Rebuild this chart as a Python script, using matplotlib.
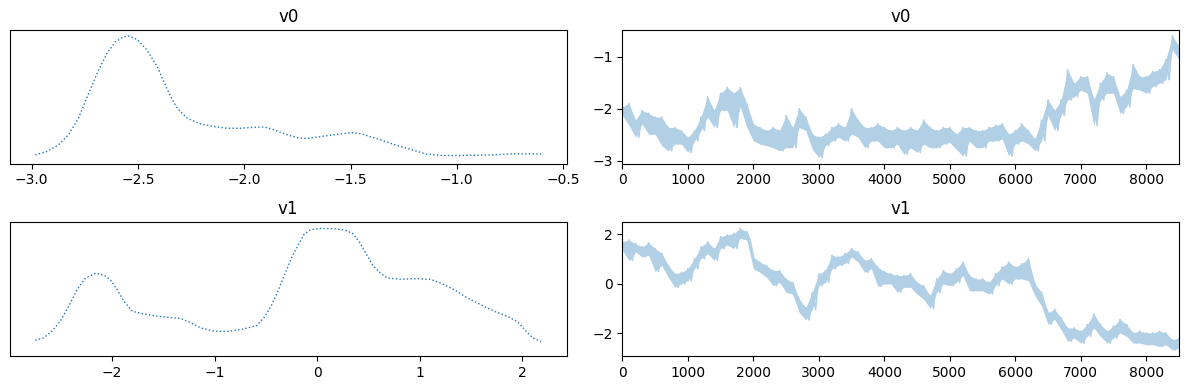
import numpy as np
import matplotlib
matplotlib.use("Agg")
import matplotlib.pyplot as plt
from matplotlib.colors import to_rgb

# KDE curves
v0_grid = [-2.983, -2.929, -2.874, -2.827, -2.78, -2.732, -2.685, -2.646, -2.606, -2.567,
           -2.543, -2.504, -2.457, -2.409, -2.378, -2.346, -2.315, -2.268, -2.205, -2.142,
           -2.079, -2.016, -1.953, -1.906, -1.858, -1.795, -1.74, -1.699, -1.62, -1.557,
           -1.494, -1.447, -1.367, -1.289, -1.21, -1.147, -1.068, -0.989, -0.91, -0.831,
           -0.752, -0.674, -0.603]
v0_dens = [0.033, 0.074, 0.156, 0.279, 0.485, 0.793, 1.081, 1.286, 1.430, 1.492,
           1.500, 1.459, 1.327, 1.122, 0.937, 0.752, 0.608, 0.485, 0.415, 0.382,
           0.362, 0.362, 0.374, 0.378, 0.341, 0.279, 0.238, 0.238, 0.267, 0.288,
           0.308, 0.292, 0.226, 0.156, 0.095, 0.045, 0.025, 0.025, 0.029, 0.033,
           0.045, 0.045, 0.045]

v1_grid = [-2.751, -2.672, -2.590, -2.508, -2.426, -2.344, -2.262, -2.164, -2.082, -2.016,
           -1.951, -1.885, -1.803, -1.689, -1.557, -1.426, -1.328, -1.230, -1.131, -1.0,
           -0.869, -0.738, -0.590, -0.508, -0.443, -0.377, -0.311, -0.246, -0.164, -0.127,
           -0.062, 0.036, 0.166, 0.264, 0.346, 0.411, 0.476, 0.541, 0.606, 0.688,
           0.818, 0.981, 1.112, 1.21, 1.34, 1.47, 1.601, 1.731, 1.862, 1.96,
           2.041, 2.106, 2.188]
v1_dens = [0.036, 0.044, 0.069, 0.106, 0.161, 0.223, 0.266, 0.284, 0.278, 0.259,
           0.223, 0.180, 0.143, 0.133, 0.125, 0.120, 0.116, 0.100, 0.081, 0.069,
           0.069, 0.076, 0.090, 0.124, 0.167, 0.223, 0.284, 0.345, 0.403, 0.428,
           0.446, 0.450, 0.449, 0.445, 0.432, 0.401, 0.358, 0.315, 0.288, 0.266,
           0.262, 0.264, 0.261, 0.247, 0.223, 0.192, 0.167, 0.143, 0.124, 0.103,
           0.069, 0.044, 0.032]

# Trace envelopes (upper / lower value) every 100 draws, 0..8500
draws = np.arange(0, 8600, 100)
v0_hi = [-1.96, -1.90, -2.22, -2.03, -2.09, -2.16, -2.16, -2.36, -2.36, -2.42,
         -2.55, -2.42, -2.16, -1.77, -2.03, -1.70, -1.59, -1.70, -1.59, -1.90,
         -2.29, -2.36, -2.42, -2.36, -2.42, -2.13, -2.36, -2.00, -2.16, -2.49,
         -2.55, -2.49, -2.36, -2.29, -2.36, -2.00, -2.22, -2.36, -2.36, -2.29,
         -2.36, -2.42, -2.36, -2.42, -2.36, -2.42, -2.22, -2.36, -2.42, -2.36,
         -2.36, -2.49, -2.36, -2.36, -2.42, -2.42, -2.36, -2.32, -2.29, -2.49,
         -2.42, -2.29, -2.42, -2.58, -2.22, -1.83, -2.03, -1.83, -1.25, -1.51,
         -1.38, -1.38, -1.83, -1.51, -1.31, -1.38, -1.77, -1.64, -1.15, -1.38,
         -1.38, -1.28, -1.25, -1.05, -0.60, -0.79]
v0_lo = [-2.13, -2.32, -2.55, -2.29, -2.49, -2.49, -2.71, -2.81, -2.68, -2.68,
         -2.84, -2.62, -2.42, -2.16, -2.36, -2.03, -2.03, -2.36, -1.96, -2.36,
         -2.62, -2.68, -2.71, -2.75, -2.81, -2.75, -2.75, -2.36, -2.42, -2.78,
         -2.94, -2.71, -2.62, -2.55, -2.62, -2.49, -2.55, -2.75, -2.62, -2.62,
         -2.75, -2.75, -2.68, -2.88, -2.75, -2.84, -2.68, -2.75, -2.75, -2.68,
         -2.65, -2.78, -2.91, -2.62, -2.75, -2.75, -2.62, -2.62, -2.58, -2.91,
         -2.68, -2.62, -2.68, -2.81, -2.62, -2.13, -2.42, -2.13, -1.83, -1.77,
         -1.64, -1.70, -2.32, -1.83, -1.70, -1.70, -2.09, -1.96, -1.61, -1.64,
         -1.70, -1.57, -1.51, -1.44, -0.86, -1.05]

v1_hi = [1.69, 1.76, 1.62, 1.49, 1.65, 1.42, 1.22, 0.74, 0.40, 0.46,
         0.60, 1.01, 1.49, 1.69, 1.42, 1.90, 1.97, 2.03, 2.23, 2.10,
         1.08, 0.87, 0.74, 0.53, 0.53, 0.19, 0.05, -0.63, -0.97, -0.35,
         0.40, 0.53, 1.15, 1.08, 1.22, 1.42, 1.28, 0.94, 1.01, 0.67,
         0.49, 0.40, 0.33, 0.33, 0.40, 0.05, -0.08, -0.49, 0.19, 0.53,
         0.40, 0.60, 0.87, 0.33, 0.19, 0.19, 0.05, 0.40, 0.67, 0.87,
         0.67, 0.81, 1.01, -0.01, -0.35, -1.17, -1.04, -1.38, -1.79, -1.79,
         -1.92, -1.65, -1.23, -1.65, -1.92, -1.72, -1.45, -1.65, -1.99, -1.92,
         -1.99, -1.99, -1.92, -1.99, -2.27, -2.20]
v1_lo = [1.35, 0.94, 1.28, 1.08, 1.15, 0.49, 0.74, 0.26, -0.15, -0.01,
         0.12, 0.60, 1.01, 1.22, 0.94, 1.42, 1.56, 1.42, 1.83, 1.76,
         0.60, 0.46, 0.26, -0.08, 0.05, -0.35, -0.42, -1.17, -1.47, -1.04,
         -0.08, 0.05, 0.60, 0.74, 0.81, 1.08, 0.87, 0.46, 0.60, -0.11,
         -0.01, -0.01, -0.35, -0.15, -0.15, -0.42, -0.63, -1.00, -0.35, -0.01,
         -0.08, 0.05, 0.33, -0.29, -0.29, -0.29, -0.42, -0.08, 0.19, -0.01,
         0.19, 0.19, 0.12, -0.49, -0.90, -1.65, -1.45, -1.86, -2.33, -2.20,
         -2.40, -2.13, -1.79, -2.13, -2.40, -2.20, -1.99, -2.13, -2.40, -2.40,
         -2.47, -2.47, -2.54, -2.47, -2.68, -2.61]

names = ["v0", "v1"]
kde_x = [v0_grid, v1_grid]
kde_y = [v0_dens, v1_dens]
trace_hi = [v0_hi, v1_hi]
trace_lo = [v0_lo, v1_lo]

# C0 at alpha 0.35 over white, as a flat colour so overlaps don't darken
c0 = np.array(to_rgb("C0"))
trace_color = tuple(0.35 * c0 + 0.65)

fig, axes = plt.subplots(2, 2, figsize=(11.88, 3.9), dpi=100)
fig.subplots_adjust(left=0.0084, right=0.9924, top=0.923, bottom=0.0872,
                    wspace=0.1005, hspace=0.44)

for row, name in enumerate(names):
    ax_kde, ax_tr = axes[row]

    ax_kde.plot(kde_x[row], kde_y[row], color="C0", linestyle=":", linewidth=1)
    ax_kde.fill_between(kde_x[row], kde_y[row], alpha=0)
    ax_kde.set_yticks([])
    ax_kde.set_title(name)

    # band between envelopes, plus a zigzag for the ragged edge
    ax_tr.fill_between(draws, trace_lo[row], trace_hi[row], color=trace_color, linewidth=0)
    xs = np.column_stack([draws, draws + 50]).ravel()
    ys = np.column_stack([trace_hi[row], trace_lo[row]]).ravel()
    ax_tr.plot(xs, ys, color=trace_color, linewidth=1.2)
    ax_tr.set_xlim(0, 8500)
    ax_tr.set_title(name)

fig.savefig("out.png", dpi=100)
